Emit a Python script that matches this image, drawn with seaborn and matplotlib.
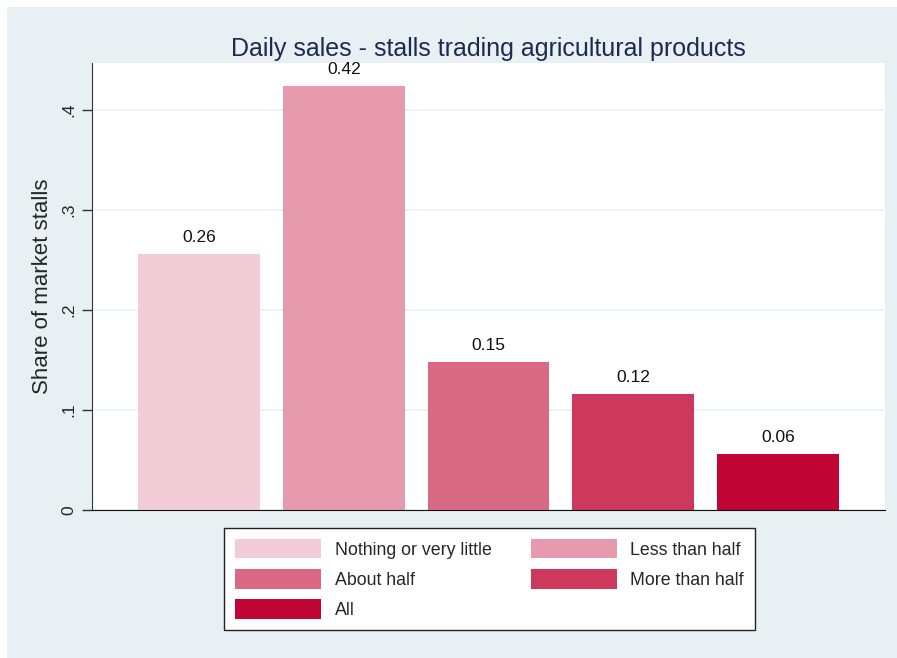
import pandas as pd
import seaborn as sns
import matplotlib.pyplot as plt
from matplotlib.patches import Rectangle

# ---------- data ----------
categories = ["Nothing or very little", "Less than half", "About half",
              "More than half", "All"]
shares = [0.256, 0.424, 0.148, 0.116, 0.056]
value_labels = ["0.26", "0.42", "0.15", "0.12", "0.06"]
bar_colors = ["#F2CCD6", "#E79AAD", "#DA6984", "#CE385D", "#C10534"]
y_ticks = [0, 0.1, 0.2, 0.3, 0.4]
y_tick_labels = ["0", ".1", ".2", ".3", ".4"]

df = pd.DataFrame({"category": categories, "share": shares})

# ---------- style ----------
bg = "#E8F0F3"
sns.set_style("white")
plt.rcParams["font.family"] = ["Liberation Sans", "DejaVu Sans"]

fig = plt.figure(figsize=(8.97, 6.58), dpi=100, facecolor="white")
fig.patches.append(Rectangle((7 / 897, 0), 1, 1 - 7 / 658,
                             transform=fig.transFigure, facecolor=bg,
                             edgecolor="none", zorder=-10))
ax = fig.add_axes([92 / 897, 1 - 510 / 658, (885 - 92) / 897, (510 - 63) / 658])

sns.barplot(data=df, x="category", y="share", hue="category",
            palette=bar_colors, order=categories, hue_order=categories,
            width=0.84, dodge=False, legend=False, saturation=1,
            linewidth=0, ax=ax)

for i, (v, lab) in enumerate(zip(shares, value_labels)):
    ax.text(i, v + 0.009, lab, ha="center", va="bottom", fontsize=12.5, color="#111111")

ax.set_xlim(-0.74, 4.74)
ax.set_ylim(0, 0.447)
ax.set_yticks(y_ticks)
ax.set_yticklabels(y_tick_labels, rotation=90, va="center", fontsize=12.5)
ax.set_xticks([])
ax.set_xlabel("")
ax.set_ylabel("Share of market stalls", fontsize=16, labelpad=6)
ax.yaxis.grid(True, color="#EAF2F3", linewidth=1.2)
ax.set_axisbelow(True)
ax.tick_params(axis="y", direction="out", length=7, width=1, color="#333333", pad=4, left=True)

for s in ["top", "right"]:
    ax.spines[s].set_visible(False)
ax.spines["left"].set_color("#333333")
ax.spines["bottom"].set_color("#111111")

ax.set_title("Daily sales - stalls trading agricultural products",
             fontsize=18, color="#1E2A4F", pad=5)

# ---------- legend (row-major order like the original) ----------
order = [0, 2, 4, 1, 3]
handles = [Rectangle((0, 0), 1, 1, facecolor=bar_colors[i], edgecolor="none") for i in order]
labels = [categories[i] for i in order]
leg = fig.legend(handles, labels, loc="center", ncol=2,
                 bbox_to_anchor=((222 + 757) / 2 / 897, 1 - 579 / 658),
                 fontsize=12.8, frameon=True, fancybox=False,
                 handlelength=4.85, handleheight=1.3, handletextpad=0.75,
                 columnspacing=2.2, labelspacing=0.6, borderpad=0.6)
leg.get_frame().set_edgecolor("#222222")
leg.get_frame().set_facecolor("white")
leg.get_frame().set_alpha(1)
leg.get_frame().set_linewidth(1.0)

fig.savefig("out.png", dpi=100, facecolor="white")
